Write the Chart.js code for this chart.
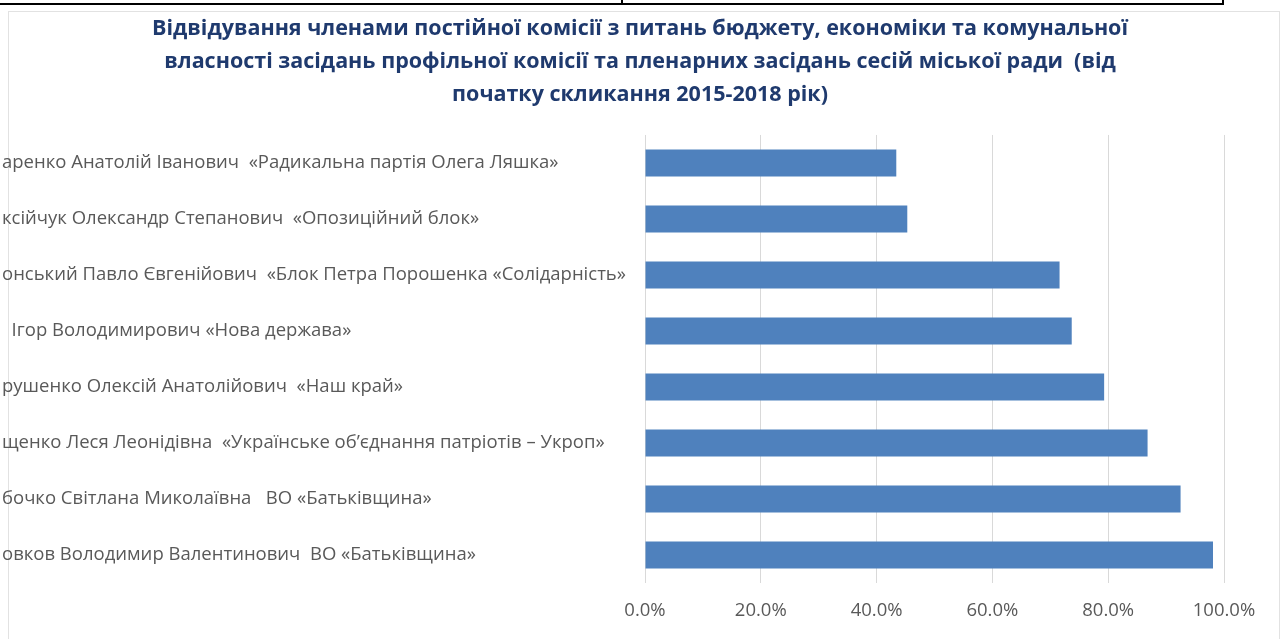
<!DOCTYPE html>
<html>
<head>
<meta charset="utf-8">
<script src="https://cdn.jsdelivr.net/npm/chart.js@4"></script>
<style>
  html, body { margin: 0; padding: 0; background: #fff; overflow: hidden; }
  #page { position: relative; width: 1286px; height: 639px; }
  .rule { position: absolute; background: #000; }
  #frame { position: absolute; left: 8px; top: 11px; width: 1272px; height: 640px; border: 1px solid #e2e2e2; box-sizing: border-box; }
  #wrap { position: absolute; left: 0; top: 0; width: 1286px; height: 639px; }
</style>
</head>
<body>
<div id="page">
  <!-- table border left over above the chart -->
  <div class="rule" style="left:0;top:3px;width:1224px;height:2px"></div>
  <div class="rule" style="left:621px;top:0;width:2px;height:5px"></div>
  <div class="rule" style="left:1222px;top:0;width:2px;height:5px"></div>
  <div id="frame"></div>
  <div id="wrap"><canvas id="chart" width="1286" height="639"></canvas></div>
</div>
<script>
const titleLines = [
  'Відвідування членами постійної комісії з питань бюджету, економіки та комунальної',
  'власності засідань профільної комісії та пленарних засідань сесій міської ради  (від',
  'початку скликання 2015-2018 рік)'
];

// labels as they show in the picture (cut off on the left)
const members = [
  'аренко Анатолій Іванович  «Радикальна партія Олега Ляшка»',
  'ксійчук Олександр Степанович  «Опозиційний блок»',
  'онський Павло Євгенійович  «Блок Петра Порошенка «Солідарність»',
  '  Ігор Володимирович «Нова держава»',
  'рушенко Олексій Анатолійович  «Наш край»',
  'щенко Леся Леонідівна  «Українське об’єднання патріотів – Укроп»',
  'бочко Світлана Миколаївна   ВО «Батьківщина»',
  'овков Володимир Валентинович  ВО «Батьківщина»'
];

// attendance, percent
const attendance = [43.4, 45.3, 71.6, 73.7, 79.3, 86.8, 92.5, 98.1];

const xTicks = [0, 20, 40, 60, 80, 100];

const grey = '#595959';

const ctx = document.getElementById('chart').getContext('2d');

const chart = new Chart(ctx, {
  type: 'bar',
  data: {
    labels: members,
    datasets: [{
      label: 'Відвідування',
      data: attendance,
      backgroundColor: '#4f81bd',
      borderWidth: 0,
      barPercentage: 0.48,
      categoryPercentage: 1
    }]
  },
  options: {
    indexAxis: 'y',
    animation: false,
    responsive: false,
    devicePixelRatio: 1,
    layout: { padding: { left: 2, right: 8, top: 0, bottom: 0 } },
    scales: {
      x: {
        min: xTicks[0],
        max: xTicks[xTicks.length - 1],
        afterBuildTicks(scale) {
          scale.ticks = xTicks.map(v => ({ value: v }));
        },
        afterFit(scale) { scale.height = 56; },
        grid: { color: '#d9d9d9', lineWidth: 1, drawTicks: false },
        border: { display: false },
        ticks: {
          padding: 17,
          color: grey,
          font: { family: 'Open Sans', size: 18.5 },
          callback: v => v.toFixed(1) + '%'
        }
      },
      y: {
        afterFit(scale) { scale.width = 643; },
        grid: { display: false },
        border: { display: false },
        ticks: {
          crossAlign: 'far',
          color: grey,
          font: { family: 'Open Sans', size: 18.5 }
        }
      },
      // empty right-hand axis, only keeps space so the title sits centred on the page
      yRight: {
        type: 'category',
        position: 'right',
        afterFit(scale) { scale.width = 54; },
        grid: { display: false },
        border: { display: false },
        ticks: { display: false }
      }
    },
    plugins: {
      legend: { display: false },
      tooltip: { enabled: false },
      title: {
        display: true,
        text: titleLines,
        color: '#1f3a6e',
        font: { family: 'Open Sans', size: 21.5, weight: 'bold', lineHeight: 1.55 },
        padding: { top: 12, bottom: 23 }
      }
    }
  }
});
</script>
</body>
</html>
